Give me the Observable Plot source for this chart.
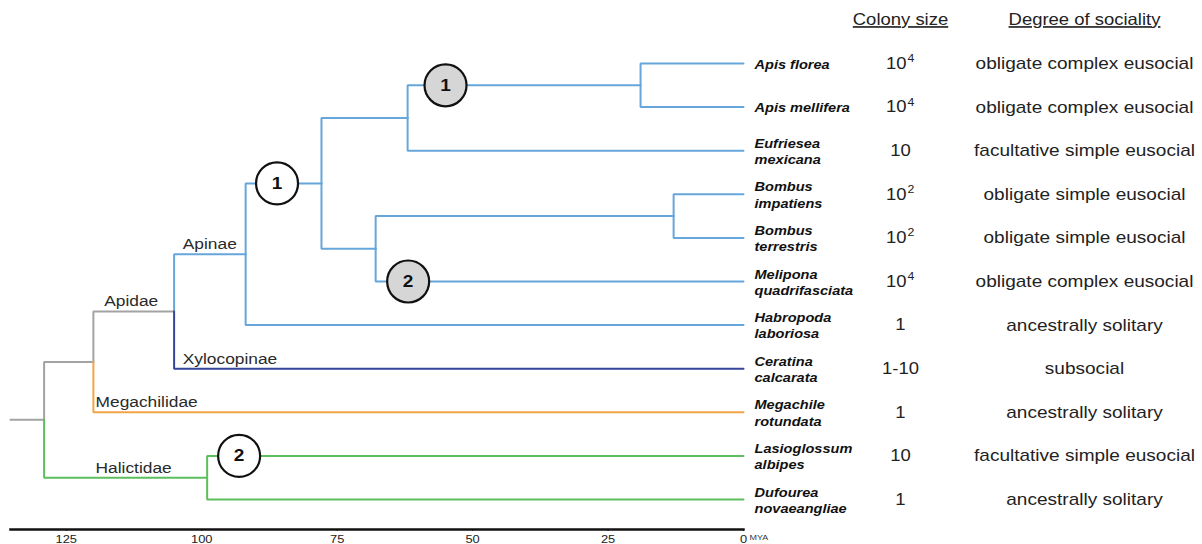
<!DOCTYPE html>
<html><head><meta charset="utf-8">
<script src="https://cdn.jsdelivr.net/npm/d3@7"></script>
<script src="https://cdn.jsdelivr.net/npm/@observablehq/plot@0.6"></script>
<style>
body{margin:0;background:#fff;}
#chart svg{display:block;font-family:"Liberation Sans",Arial,sans-serif;background:#fff;}
</style>
</head><body><div id="chart"></div>
<script>
// ---------- data ----------
const species = ["Apis florea","Apis mellifera","Eufriesea mexicana","Bombus impatiens","Bombus terrestris","Melipona quadrifasciata","Habropoda laboriosa","Ceratina calcarata","Megachile rotundata","Lasioglossum albipes","Dufourea novaeangliae"];
const speciesLabels = ["Apis florea","Apis mellifera","Eufriesea\nmexicana","Bombus\nimpatiens","Bombus\nterrestris","Melipona\nquadrifasciata","Habropoda\nlaboriosa","Ceratina\ncalcarata","Megachile\nrotundata","Lasioglossum\nalbipes","Dufourea\nnovaeangliae"];
const colonyBase = ["10","10","10","10","10","10","1","1-10","1","10","1"];
const colonyExp  = ["4","4","","2","2","4","","","","",""];
const sociality = ["obligate complex eusocial","obligate complex eusocial","facultative simple eusocial","obligate simple eusocial","obligate simple eusocial","obligate complex eusocial","ancestrally solitary","subsocial","ancestrally solitary","facultative simple eusocial","ancestrally solitary"];
const headers = ["Colony size","Degree of sociality"];

// internal nodes and their ages (million years ago)
const internalNodes = ["root","A","B","C","D","E","F","G","H","I"];
const internalAges  = [129.1,120.0,105.1,91.9,77.9,62.0,19.0,67.9,12.9,99.0];
const rootStemAge = 135.3;

// edges: parent -> child, clade colour group
const edgeParents  = ["root","root","A","A","B","B","C","C","D","D","E","E","F","F","G","G","H","H","I","I"];
const edgeChildren = ["A","I","B","Megachile rotundata","C","Ceratina calcarata","D","Habropoda laboriosa","E","G","F","Eufriesea mexicana","Apis florea","Apis mellifera","H","Melipona quadrifasciata","Bombus impatiens","Bombus terrestris","Lasioglossum albipes","Dufourea novaeangliae"];
const edgeClades   = ["stem","Halictidae","stem","Megachilidae","Apinae","Xylocopinae","Apinae","Apinae","Apinae","Apinae","Apinae","Apinae","Apinae","Apinae","Apinae","Apinae","Apinae","Apinae","Halictidae","Halictidae"];

const cladeNames  = ["stem","Apinae","Xylocopinae","Megachilidae","Halictidae"];
const cladeColors = ["#a3a3a3","#67a6da","#36449a","#f2a446","#5cbf5e"];

// clade labels on branches
const cladeLabels    = ["Apidae","Apinae","Xylocopinae","Megachilidae","Halictidae"];
const cladeLabelEdge = ["B","C","Ceratina calcarata","Megachile rotundata","I"];
const cladeLabelAge  = [118.0,103.5,103.5,119.6,119.6];

// circled event markers on branches
const markerText   = ["1","1","2","2"];
const markerEdge   = ["D","F","Melipona quadrifasciata","Lasioglossum albipes"];
const markerAge    = [86.1,55.0,61.9,93.1];
const markerFilled = [false,true,true,false];

const axisTicks = [125,100,75,50,25,0];

// ---------- layout from data ----------
const age = new Map();
species.forEach(s => age.set(s, 0));
internalNodes.forEach((n, i) => age.set(n, internalAges[i]));
const ypos = new Map();
species.forEach((s, i) => ypos.set(s, i));
function getY(n) {
  if (ypos.has(n)) return ypos.get(n);
  const ch = edgeChildren.filter((c, i) => edgeParents[i] === n);
  const v = d3.mean(ch, getY);
  ypos.set(n, v);
  return v;
}
getY("root");

const pts = [];
pts.push({k: "rootstem", x: rootStemAge, y: getY("root"), clade: "stem"});
pts.push({k: "rootstem", x: age.get("root"), y: getY("root"), clade: "stem"});
edgeChildren.forEach((c, i) => {
  const p = edgeParents[i], cl = edgeClades[i];
  pts.push({k: i, x: age.get(p), y: getY(p), clade: cl});
  pts.push({k: i, x: age.get(p), y: getY(c), clade: cl});
  pts.push({k: i, x: age.get(c), y: getY(c), clade: cl});
});

const rows = species.map((s, i) => ({i, s, label: speciesLabels[i], base: colonyBase[i], exp: colonyExp[i], soc: sociality[i]}));
const cl = cladeLabels.map((t, i) => ({t, x: cladeLabelAge[i], y: getY(cladeLabelEdge[i])}));
const mk = markerText.map((t, i) => ({t, x: markerAge[i], y: getY(markerEdge[i]), f: markerFilled[i]}));

const chart = Plot.plot({
  width: 1202, height: 544,
  marginLeft: 10, marginRight: 459, marginTop: 0, marginBottom: 15,
  x: {domain: [rootStemAge, 0], axis: null, label: null},
  y: {domain: [0, 10], range: [63, 499], axis: null},
  color: {domain: cladeNames, range: cladeColors},
  marks: [
    Plot.frame({anchor: "bottom", stroke: "#111", strokeWidth: 2.5}),
    Plot.axisX({ticks: axisTicks, tickFormat: d => String(d), label: null, tickSize: 2, tickPadding: 3, fontSize: 11.5, fill: "#222", stroke: "#111", letterSpacing: 1}),
    Plot.text(["MYA"], {x: 0, frameAnchor: "bottom", dx: 6, dy: 10, textAnchor: "start", fontSize: 8, fill: "#333"}),
    Plot.line(pts, {x: "x", y: "y", z: "k", stroke: "clade", strokeWidth: 2, strokeLinejoin: "miter", curve: "linear"}),
    Plot.text(cl, {x: "x", y: "y", text: "t", textAnchor: "start", lineAnchor: "bottom", dy: -5, fontSize: 15.5, fill: "#2a2a2a"}),
    Plot.dot(mk, {x: "x", y: "y", r: 21, fill: d => d.f ? "#d6d6d6" : "white", stroke: "#111", strokeWidth: 2.2}),
    Plot.text(mk, {x: "x", y: "y", text: "t", fontSize: 17, fontWeight: "bold", fill: "#111"}),
    Plot.text(rows, {x: 0, y: "i", text: "label", dx: 11, textAnchor: "start", fontSize: 13, fontWeight: "bold", fontStyle: "italic", lineHeight: 1.25, fill: "#111"}),
    Plot.text(rows.filter(d => !d.exp), {x: 0, y: "i", text: "base", dx: 157, fontSize: 16.5, fill: "#222"}),
    Plot.text(rows.filter(d => d.exp), {x: 0, y: "i", text: "base", dx: 163, textAnchor: "end", fontSize: 16.5, fill: "#222"}),
    Plot.text(rows.filter(d => d.exp), {x: 0, y: "i", text: "exp", dx: 164, dy: -5, textAnchor: "start", fontSize: 11, fill: "#222"}),
    Plot.text(rows, {x: 0, y: "i", text: "soc", dx: 341, fontSize: 17, fill: "#222"}),
    Plot.text([headers[0]], {x: 0, y: -1, dx: 157, fontSize: 16.5, fill: "#222"}),
    Plot.text([headers[1]], {x: 0, y: -1, dx: 341, fontSize: 16.5, fill: "#222"})
  ]
});

// horizontal stretch of text to match the reference's lettering
d3.select(chart).selectAll("text").each(function() {
  const t = this.getAttribute("transform");
  if (t) this.setAttribute("transform", t + " scale(1.12,1)");
  else {
    const x = +this.getAttribute("x") || 0, y = +this.getAttribute("y") || 0;
    this.removeAttribute("x"); this.removeAttribute("y");
    this.setAttribute("transform", `translate(${x},${y}) scale(1.12,1)`);
  }
  if (headers.includes(this.textContent)) this.style.textDecoration = "underline";
});
document.getElementById("chart").appendChild(chart);
</script>
</body></html>
